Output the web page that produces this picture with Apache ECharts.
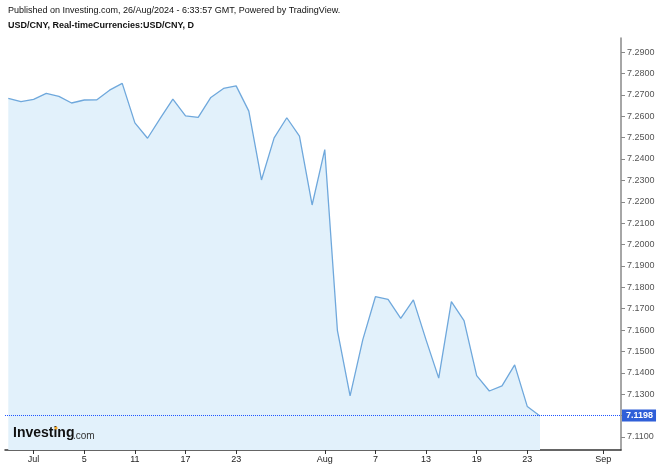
<!DOCTYPE html>
<html>
<head>
<meta charset="utf-8">
<script src="https://cdn.jsdelivr.net/npm/echarts@6/dist/echarts.min.js"></script>
<style>
html,body{margin:0;padding:0;background:#fff;}
#c{width:658px;height:466px;}
</style>
</head>
<body>
<div id="c"></div>
<script>
// trading days (USD/CNY daily closes)
var dates = ['06-27','06-28','07-01','07-02','07-03','07-04','07-05','07-08','07-09','07-10',
  '07-11','07-12','07-15','07-16','07-17','07-18','07-19','07-22','07-23','07-24',
  '07-25','07-26','07-29','07-30','07-31','08-01','08-02','08-05','08-06','08-07',
  '08-08','08-09','08-12','08-13','08-14','08-15','08-16','08-19','08-20','08-21',
  '08-22','08-23','08-26'];
var futureDates = ['08-27','08-28','08-29','08-30','09-02','09-03'];
var closes = [7.2684,7.2668,7.2679,7.2707,7.2693,7.2662,7.2676,7.2677,7.2722,7.2754,
  7.2569,7.2497,7.2590,7.2680,7.2602,7.2595,7.2688,7.2730,7.2742,7.2624,
  7.2302,7.2499,7.2593,7.2507,7.2185,7.2444,7.1597,7.1292,7.1554,7.1756,
  7.1744,7.1655,7.1741,7.1554,7.1375,7.1733,7.1644,7.1387,7.1315,7.1339,
  7.1437,7.1242,7.1198];
var lastPrice = 7.1198;
var xTickDates = ['07-01','07-05','07-11','07-17','07-23','08-01','08-07','08-13','08-19','08-23','09-02'];
var xTickLabels = ['Jul','5','11','17','23','Aug','7','13','19','23','Sep'];
var yTicks = [7.11,7.12,7.13,7.14,7.15,7.16,7.17,7.18,7.19,7.20,7.21,7.22,7.23,7.24,7.25,7.26,7.27,7.28,7.29];

var allDates = dates.concat(futureDates);
var seriesData = closes.map(function(v,i){return [i,v];});
var xTickIdx = xTickDates.map(function(d){return allDates.indexOf(d);});
var labelMap = {};
xTickIdx.forEach(function(ix,k){labelMap[ix]=xTickLabels[k];});

var chart = echarts.init(document.getElementById('c'), null, {renderer:'canvas'});
var FONT = 'Liberation Sans, Arial, sans-serif';
chart.setOption({
  animation:false,
  backgroundColor:'#ffffff',
  grid:{left:5,right:37,top:38,bottom:16,containLabel:false},
  xAxis:{
    type:'value', min:-0.26, max:48.4,
    axisLine:{show:true,onZero:false,lineStyle:{color:'#333',width:1.5}},
    axisTick:{show:true,length:4,customValues:xTickIdx,lineStyle:{color:'#333'}},
    axisLabel:{customValues:xTickIdx,fontFamily:FONT,fontSize:9,color:'#222',margin:5,
      formatter:function(v){return labelMap[Math.round(v)]||'';}},
    splitLine:{show:false}
  },
  yAxis:{
    type:'value', position:'right', min:7.1039, max:7.2966, scale:true,
    axisLine:{show:true,onZero:false,lineStyle:{color:'#888',width:1.5}},
    axisTick:{show:true,length:4,inside:false,customValues:yTicks,lineStyle:{color:'#888'}},
    axisLabel:{customValues:yTicks,fontFamily:FONT,fontSize:9,color:'#555',margin:6,
      formatter:function(v){return v.toFixed(4);}},
    splitLine:{show:false}
  },
  series:[{
    type:'line',
    data:seriesData,
    symbol:'none',
    lineStyle:{color:'#6fa8dc',width:1.3},
    areaStyle:{color:'#e2f1fb',opacity:1,origin:'start'},
    markLine:{
      silent:true,symbol:'none',
      lineStyle:{color:'#1f55ff',type:[1,1],width:1},
      label:{show:true,position:'end',distance:1,formatter:function(){return lastPrice.toFixed(4);},
        backgroundColor:'#2f5fd8',color:'#fff',fontWeight:'bold',fontFamily:FONT,fontSize:9,padding:[2,3,1,4]},
      data:[{yAxis:lastPrice}]
    }
  }],
  graphic:[
    {type:'text',left:8,top:6,z:100,style:{text:'Published on Investing.com, 26/Aug/2024 - 6:33:57 GMT, Powered by TradingView.',font:'9px '+FONT,fill:'#111'}},
    {type:'text',left:8,top:21,z:100,style:{text:'USD/CNY, Real-timeCurrencies:USD/CNY, D',font:'bold 9px '+FONT,fill:'#111'}},
    {type:'text',left:13,top:426,z:100,style:{text:'Investing',font:'bold 14px '+FONT,fill:'#111'}},
    {type:'text',left:73,top:431,z:100,style:{text:'.com',font:'10px '+FONT,fill:'#333'}},
    {type:'circle',z:101,shape:{cx:56,cy:428,r:1.6},style:{fill:'#f5a623'}}
  ]
});
</script>
</body>
</html>
